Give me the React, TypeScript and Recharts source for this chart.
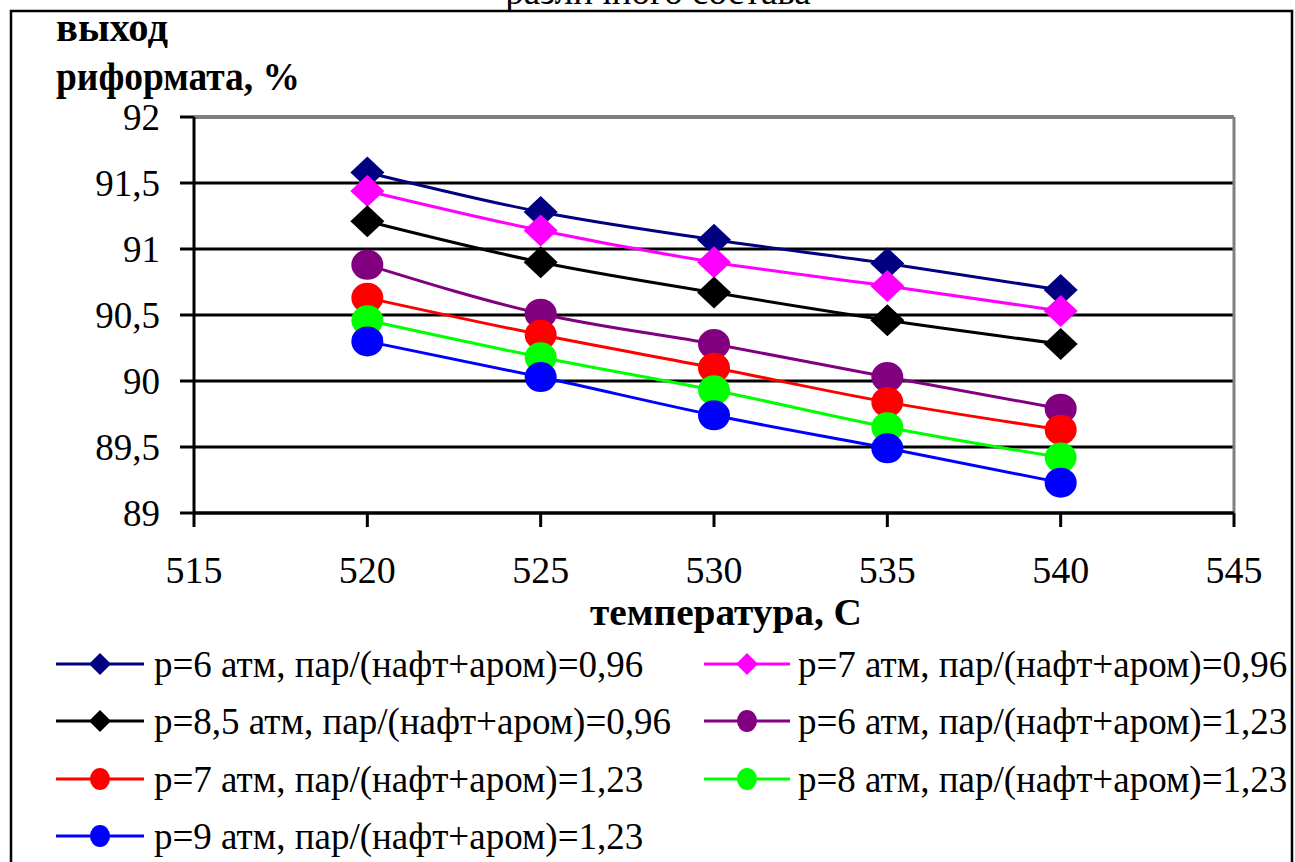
import React from "react";
import {
  LineChart,
  Line,
  XAxis,
  YAxis,
  CartesianGrid,
  ReferenceLine,
} from "recharts";

const temperatures = [520, 525, 530, 535, 540];
const xTicks = [515, 520, 525, 530, 535, 540, 545];
const yTicks = [89, 89.5, 90, 90.5, 91, 91.5, 92];

const p6_096 = [91.58, 91.28, 91.07, 90.89, 90.69];
const p7_096 = [91.44, 91.14, 90.9, 90.72, 90.53];
const p85_096 = [91.21, 90.9, 90.67, 90.46, 90.28];
const p6_123 = [90.88, 90.51, 90.28, 90.03, 89.79];
const p7_123 = [90.63, 90.35, 90.1, 89.84, 89.63];
const p8_123 = [90.46, 90.18, 89.93, 89.65, 89.42];
const p9_123 = [90.3, 90.03, 89.74, 89.49, 89.23];

const seriesNames = [
  "p=6 атм, пар/(нафт+аром)=0,96",
  "p=7 атм, пар/(нафт+аром)=0,96",
  "p=8,5 атм, пар/(нафт+аром)=0,96",
  "p=6 атм, пар/(нафт+аром)=1,23",
  "p=7 атм, пар/(нафт+аром)=1,23",
  "p=8 атм, пар/(нафт+аром)=1,23",
  "p=9 атм, пар/(нафт+аром)=1,23",
];
const seriesValues = [p6_096, p7_096, p85_096, p6_123, p7_123, p8_123, p9_123];
const seriesColors = ["#000080", "#FF00FF", "#000000", "#800080", "#FF0000", "#00FF00", "#0000FF"];
const seriesShapes = ["diamond", "diamond", "diamond", "circle", "circle", "circle", "circle"];

const FONT = "Liberation Serif, DejaVu Serif, serif";

const chartData = temperatures.map((t, i) => {
  const row: Record<string, number> = { t };
  seriesValues.forEach((vals, s) => {
    row["s" + s] = vals[i];
  });
  return row;
});

function Marker({ cx, cy, shape, color, big }: { cx: number; cy: number; shape: string; color: string; big: boolean }) {
  if (shape === "diamond") {
    const hx = big ? 17 : 11;
    const hy = big ? 16 : 11;
    return (
      <polygon
        points={`${cx},${cy - hy} ${cx + hx},${cy} ${cx},${cy + hy} ${cx - hx},${cy}`}
        fill={color}
      />
    );
  }
  return <ellipse cx={cx} cy={cy} rx={big ? 16 : 10} ry={big ? 15 : 11} fill={color} />;
}

export default function App() {
  const legendRows = [664, 721, 779, 836];
  return (
    <div
      style={{
        position: "absolute",
        left: 0,
        top: 0,
        width: 1295,
        height: 862,
        overflow: "hidden",
        background: "#fff",
        fontFamily: FONT,
      }}
    >
      <LineChart
        width={1295}
        height={862}
        data={chartData}
        margin={{ top: 117, right: 61, left: 0, bottom: 289 }}
        style={{ fontFamily: FONT }}
      >
        <CartesianGrid vertical={false} stroke="#000" strokeWidth={3} />
        <XAxis
          dataKey="t"
          type="number"
          domain={[515, 545]}
          ticks={xTicks}
          height={60}
          stroke="#000"
          strokeWidth={3}
          tickSize={14}
          tickMargin={29}
          tick={{ fill: "#000", fontSize: 38, fontFamily: FONT }}
        />
        <YAxis
          type="number"
          domain={[89, 92]}
          ticks={yTicks}
          width={194}
          stroke="#000"
          strokeWidth={3}
          tickSize={14}
          tickMargin={20}
          tickFormatter={(v: number) => String(v).replace(".", ",")}
          tick={{ fill: "#000", fontSize: 37, fontFamily: FONT }}
        />
        <ReferenceLine y={92} stroke="#808080" strokeWidth={3} />
        <ReferenceLine x={545} stroke="#808080" strokeWidth={3} />
        {seriesNames.map((name, s) => (
          <Line
            key={name}
            name={name}
            dataKey={"s" + s}
            type="monotone"
            stroke={seriesColors[s]}
            strokeWidth={3}
            isAnimationActive={false}
            activeDot={false}
            dot={(props: any) => (
              <Marker
                key={name + props.index}
                cx={props.cx}
                cy={props.cy}
                shape={seriesShapes[s]}
                color={seriesColors[s]}
                big
              />
            )}
          />
        ))}
      </LineChart>
      <svg
        width={1295}
        height={862}
        style={{ position: "absolute", left: 0, top: 0, pointerEvents: "none", fontFamily: FONT }}
      >
        <rect x={11} y={11} width={1281} height={900} fill="none" stroke="#000" strokeWidth={2.5} />
        <text x={658} y={4} textAnchor="middle" fontSize={37} fill="#000">
          различного состава
        </text>
        <text x={56} y={41} fontSize={39} fontWeight="bold" fill="#000" textLength={112} lengthAdjust="spacingAndGlyphs">
          выход
        </text>
        <text x={56} y={90} fontSize={39} fontWeight="bold" fill="#000" textLength={244} lengthAdjust="spacingAndGlyphs">
          риформата, %
        </text>
        <text x={590} y={625} fontSize={38} fontWeight="bold" fill="#000" textLength={272} lengthAdjust="spacingAndGlyphs">
          температура, С
        </text>
        {seriesNames.map((name, s) => {
          const col = s % 2;
          const cy = legendRows[Math.floor(s / 2)];
          const x0 = col === 0 ? 56 : 704;
          const x1 = col === 0 ? 144 : 790;
          const mx = (x0 + x1) / 2;
          const tx = col === 0 ? 154 : 798;
          return (
            <g key={name}>
              <line x1={x0} y1={cy} x2={x1} y2={cy} stroke={seriesColors[s]} strokeWidth={3} />
              <Marker cx={mx} cy={cy} shape={seriesShapes[s]} color={seriesColors[s]} big={false} />
              <text x={tx} y={cy} dy="0.35em" fontSize={37} fill="#000">
                {name}
              </text>
            </g>
          );
        })}
      </svg>
    </div>
  );
}
